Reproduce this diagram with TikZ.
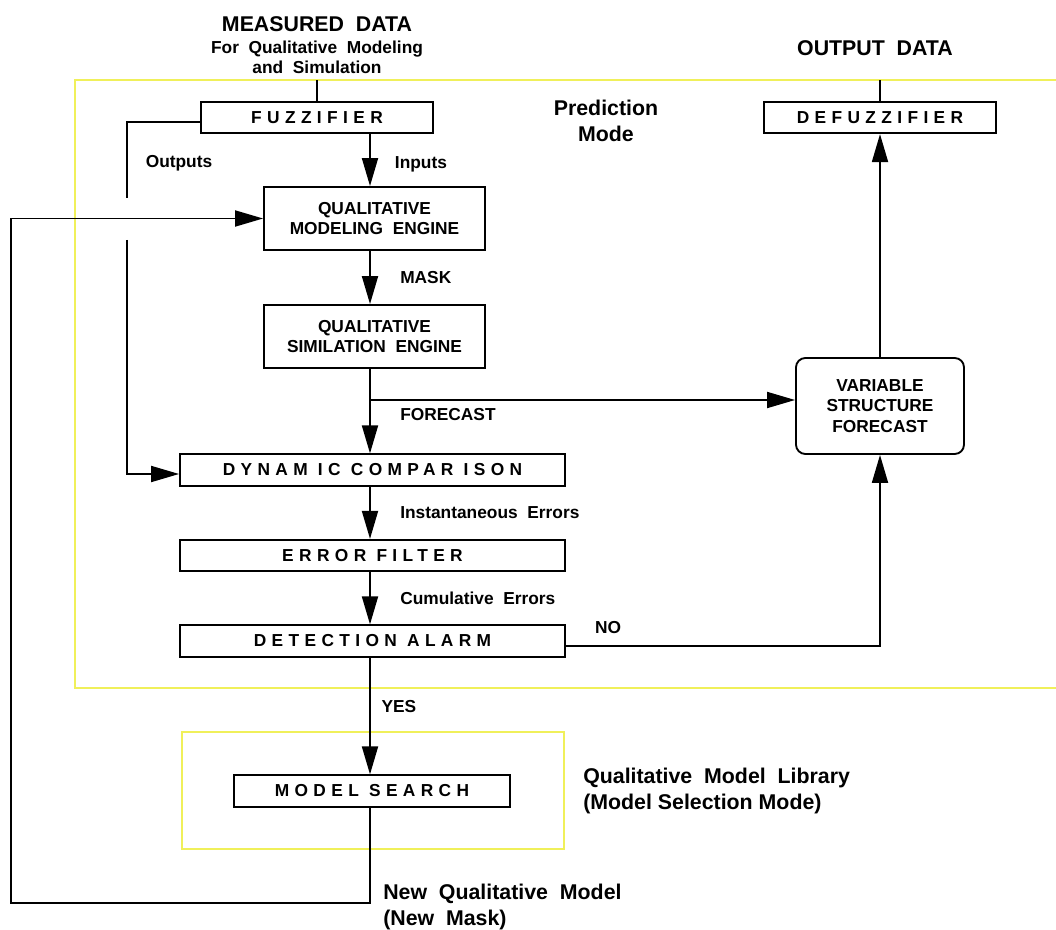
\documentclass[tikz,border=0pt]{standalone}
\usepackage{fontspec}
\setmainfont{Liberation Sans}
\usepackage{tikz}
\usetikzlibrary{arrows.meta, calc}
\definecolor{predyel}{RGB}{240,240,90}
\newcommand{\spc}[1]{{\addfontfeatures{LetterSpace=31}#1}}

\begin{document}
\begin{tikzpicture}[
  x=0.75pt, y=-0.75pt,
  nd/.style={rectangle, draw=black, line width=1.4pt, inner sep=2pt,
    align=center, font=\fontsize{13}{15.5}\selectfont\bfseries},
  barnd/.style={nd, minimum height=23.5pt},
  engnd/.style={nd, minimum width=165.75pt, minimum height=47.25pt},
  vsfnd/.style={nd, rounded corners=7pt, minimum width=126pt, minimum height=72pt},
  lbl/.style={font=\fontsize{13}{15.5}\selectfont\bfseries, inner sep=0pt, align=center},
  big/.style={font=\fontsize{16}{19.5}\selectfont\bfseries, inner sep=0pt, align=center},
  bigl/.style={big, align=left, anchor=west},
  ln/.style={line width=1.4pt, black},
  arr/.style={ln, -{Triangle[length=21pt, width=12pt]}},
  zone/.style={line width=1.6pt, predyel},
]
  \useasboundingbox (0,0) rectangle (1056,930);

  % yellow zones
  \draw[zone] (1060,80) -| (75,688) -- (1060,688);
  \draw[zone] (182,732) rectangle (564,849);

  % blocks
  \node[barnd, minimum width=174pt] (fuzz) at (317,117.5) {\spc{FUZZIFIER}};
  \node[barnd, minimum width=174pt] (defuzz) at (880,117.5) {\spc{DEFUZZIFIER}};
  \node[engnd] (qme) at (374.5,218.5) {QUALITATIVE\\MODELING\ \ ENGINE};
  \node[engnd] (qse) at (374.5,336.5) {QUALITATIVE\\SIMILATION\ \ ENGINE};
  \node[barnd, minimum width=288.75pt] (dc) at (372.5,470) {\spc{DYNAM IC COMPAR ISON}};
  \node[barnd, minimum width=288.75pt] (ef) at (372.5,555.5) {\spc{ERROR\ FILTER}};
  \node[barnd, minimum width=288.75pt] (da) at (372.5,641) {\spc{DETECTION\ ALARM}};
  \node[barnd, minimum width=207pt] (ms) at (372,791) {\spc{MODEL SEARCH}};
  \node[vsfnd] (vsf) at (880,406) {VARIABLE\\STRUCTURE\\FORECAST};

  % free ends and bends
  \coordinate (spine) at (370,0);
  \coordinate (fork) at (370,400);
  \coordinate (outa) at (127,198);
  \coordinate (outb) at (127,240);
  \coordinate (back) at (11,903);

  % texts
  \node[lbl] (meas) at (317,45) {{\fontsize{16}{16.5}\selectfont MEASURED\ \ DATA}\\[1pt]
    For\ \ Qualitative\ \ Modeling\\and\ \ Simulation};
  \node[big] (outd) at (875,48) {OUTPUT\ \ DATA};
  \node[big] (pmode) at (606,121) {Prediction\\Mode};
  \node[bigl] (lib) at (583,791) {Qualitative\ \ Model\ \ Library\\(Model\ Selection\ Mode)};

  % main chain
  \draw[ln] (fuzz.north) -- (fuzz.north |- 0,80);
  \draw[arr] (fuzz.south -| spine) -- node[lbl, right=18pt, yshift=-3pt]{Inputs} (qme.north -| spine);
  \draw[arr] (qme.south -| spine) -- node[lbl, right=22pt]{MASK} (qse.north -| spine);
  \draw[arr] (qse.south -| spine) -- (dc.north -| spine);
  \draw[arr] (fork) -- (fork -| vsf.west);
  \node[lbl, anchor=west] at (400,415) {FORECAST};
  \draw[arr] (dc.south -| spine) -- node[lbl, anchor=west, xshift=22pt]{Instantaneous\ \ Errors} (ef.north -| spine);
  \draw[arr] (ef.south -| spine) -- node[lbl, anchor=west, xshift=22pt]{Cumulative\ \ Errors} (da.north -| spine);
  \draw[arr] (da.south -| spine) -- node[lbl, pos=0.42, anchor=west, xshift=8pt]{YES} (ms.north -| spine);

  % outputs straight to the comparison, jumping the loop
  \draw[ln] ([yshift=-3.4pt]fuzz.west) -| (outa);
  \node[lbl] at (179,163) {Outputs};
  \draw[arr] (outb) |- ([yshift=-3pt]dc.west);

  % new model fed back to the modeling engine
  \draw[arr] (ms.south -| spine) -- (back -| spine) -- (back) |- (qme.west);
  \node[bigl] at (383,907) {New\ \ Qualitative\ \ Model\\(New\ \ Mask)};

  % no alarm: forecast to the defuzzifier
  \draw[arr] ([yshift=-3.75pt]da.east) -| (vsf.south);
  \node[lbl] at (608,628) {NO};
  \draw[arr] (vsf.north) -- (defuzz.south);
  \draw[ln] (defuzz.north) -- (defuzz.north |- 0,80);
\end{tikzpicture}
\end{document}
